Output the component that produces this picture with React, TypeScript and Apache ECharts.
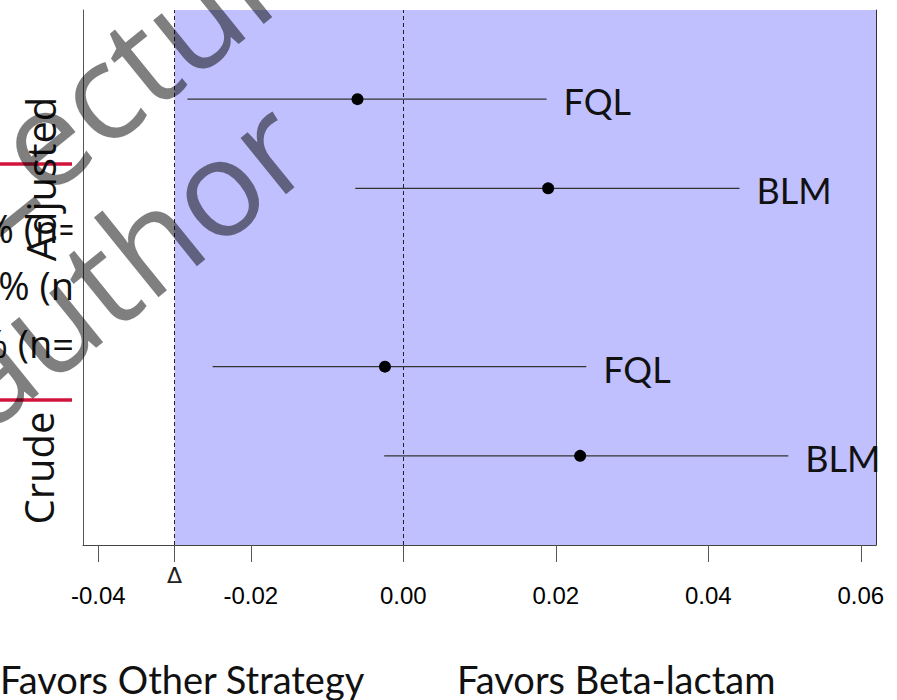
import React, { useEffect, useRef } from "react";
import * as echarts from "echarts";

// ---- data ----
const labels = ["FQL", "BLM", "FQL", "BLM"];
const groups = ["Adjusted", "Adjusted", "Crude", "Crude"];
const estimates = [-0.006, 0.019, -0.0024, 0.0232];
const lowerCI = [-0.0283, -0.0063, -0.025, -0.0025];
const upperCI = [0.0188, 0.0441, 0.024, 0.0505];
const rows = [5, 4, 2, 1];
const xTicks = [-0.04, -0.02, 0, 0.02, 0.04, 0.06];
const deltaMargin = -0.03;
const xMin = -0.042;
const xMax = 0.062;
const groupLabels = ["Adjusted", "Crude"];
const bottomLabels = ["Favors Other Strategy", "Favors Beta-lactam"];
const fragments = ["% (n=", "% (n", "% (n="];
const watermark = ["Lecture", "author"];

export default function App() {
  const ref = useRef<HTMLDivElement>(null);
  useEffect(() => {
    if (!ref.current) return;
    const chart = echarts.init(ref.current, null, { renderer: "svg" });
    const data = estimates.map((e, i) => [e, lowerCI[i], upperCI[i], rows[i]]);
    const wmColor = "rgba(0,0,0,0.5)";
    const wmRot = 0.68;
    const fragStyle = (t: string) => ({
      text: t,
      fontSize: 38,
      fontFamily: "Open Sans",
      fill: "#111",
      align: "right",
      verticalAlign: "middle",
    });
    const option: any = {
      animation: false,
      grid: { left: 83, right: 21, top: 10, bottom: 155, containLabel: false, outerBoundsMode: "none" },
      xAxis: [
        {
          type: "value",
          min: xMin,
          max: xMax,
          position: "bottom",
          axisLine: { show: true, onZero: false, lineStyle: { color: "#444", width: 1 } },
          axisTick: {
            show: true,
            length: 17,
            customValues: [...xTicks, deltaMargin],
            lineStyle: { color: "#555", width: 1 },
          },
          axisLabel: {
            customValues: xTicks,
            formatter: (v: number) => v.toFixed(2),
            margin: 38,
            fontSize: 24,
            fontFamily: "Liberation Sans",
            color: "#000",
          },
          splitLine: { show: false },
        },
        {
          type: "value",
          min: xMin,
          max: xMax,
          position: "bottom",
          axisLine: { show: false, onZero: false },
          axisTick: { show: false },
          axisLabel: {
            customValues: [deltaMargin],
            formatter: () => "Δ",
            margin: 19,
            fontSize: 22,
            fontFamily: "DejaVu Sans",
            color: "#222",
          },
          splitLine: { show: false },
        },
      ],
      yAxis: [
        {
          type: "value",
          min: 0,
          max: 6,
          position: "left",
          axisLine: { show: true, onZero: false, lineStyle: { color: "#555", width: 1 } },
          axisTick: { show: false },
          axisLabel: { show: false },
          splitLine: { show: false },
        },
        {
          type: "value",
          min: 0,
          max: 6,
          position: "right",
          axisLine: { show: true, onZero: false, lineStyle: { color: "#333", width: 1 } },
          axisTick: { show: false },
          axisLabel: { show: false },
          splitLine: { show: false },
        },
      ],
      series: [
        {
          type: "scatter",
          z: 1,
          data: [[0, 3]],
          symbolSize: 0,
          silent: true,
          markArea: {
            silent: true,
            itemStyle: { color: "#C0C0FF" },
            data: [[{ xAxis: deltaMargin }, { xAxis: xMax }]],
          },
          markLine: {
            silent: true,
            symbol: "none",
            label: { show: false },
            lineStyle: { color: "#222", width: 1, type: [4, 3] },
            data: [{ xAxis: deltaMargin }, { xAxis: 0 }],
          },
        },
        {
          type: "custom",
          z: 5,
          data,
          encode: { x: [0, 1, 2], y: 3 },
          renderItem: (params: any, api: any) => {
            const y = api.value(3);
            const pLo = api.coord([api.value(1), y]);
            const pHi = api.coord([api.value(2), y]);
            const pE = api.coord([api.value(0), y]);
            return {
              type: "group",
              children: [
                {
                  type: "line",
                  shape: { x1: pLo[0], y1: pLo[1], x2: pHi[0], y2: pHi[1] },
                  style: { stroke: "#333", lineWidth: 1.2 },
                },
                {
                  type: "circle",
                  shape: { cx: pE[0], cy: pE[1], r: 6 },
                  style: { fill: "#000" },
                },
                {
                  type: "text",
                  x: pHi[0] + 17,
                  y: pHi[1] + 2,
                  style: {
                    text: labels[params.dataIndex],
                    fontSize: 36,
                    fontFamily: "Lato",
                    fill: "#111",
                    align: "left",
                    verticalAlign: "middle",
                  },
                },
              ],
            };
          },
        },
      ],
      graphic: [
        // clipped fragments of neighbouring panel text
        { type: "text", z: 10, x: 80, y: 228, style: fragStyle(fragments[0]) },
        { type: "text", z: 10, x: 74, y: 285, style: fragStyle(fragments[1]) },
        { type: "text", z: 10, x: 74, y: 343, style: fragStyle(fragments[2]) },
        { type: "rect", z: 11, shape: { x: 72.5, y: 190, width: 10, height: 190 }, style: { fill: "#fff" } },
        { type: "line", z: 12, shape: { x1: 0, y1: 164, x2: 72, y2: 164 }, style: { stroke: "#D2143C", lineWidth: 3.5 } },
        { type: "line", z: 12, shape: { x1: 0, y1: 400, x2: 72, y2: 400 }, style: { stroke: "#D2143C", lineWidth: 3.5 } },
        { type: "text", z: 13, x: 40, y: 179, rotation: Math.PI / 2, style: { text: groupLabels[0], fontSize: 40, fontFamily: "Open Sans", fill: "#111", align: "center", verticalAlign: "middle" } },
        { type: "text", z: 13, x: 38, y: 468, rotation: Math.PI / 2, style: { text: groupLabels[1], fontSize: 40, fontFamily: "Open Sans", fill: "#111", align: "center", verticalAlign: "middle" } },
        { type: "text", z: 13, x: 0, y: 679, style: { text: bottomLabels[0], fontSize: 38, fontFamily: "Lato", fill: "#111", align: "left", verticalAlign: "middle" } },
        { type: "text", z: 13, x: 457, y: 679, style: { text: bottomLabels[1], fontSize: 38, fontFamily: "Lato", fill: "#111", align: "left", verticalAlign: "middle" } },
        // watermark
        { type: "text", z: 100, x: 140, y: 57, rotation: wmRot, style: { text: watermark[0], fontSize: 135, fontFamily: "Open Sans", fill: wmColor, align: "center", verticalAlign: "middle" } },
        { type: "text", z: 100, x: 122, y: 260, rotation: wmRot, style: { text: watermark[1], fontSize: 135, fontFamily: "Open Sans", fill: wmColor, align: "center", verticalAlign: "middle" } },
      ],
    };
    chart.setOption(option);
    return () => chart.dispose();
  }, []);
  return (
    <div
      ref={ref}
      style={{ position: "fixed", left: 0, top: 0, width: 897, height: 700, background: "#fff" }}
    />
  );
}
